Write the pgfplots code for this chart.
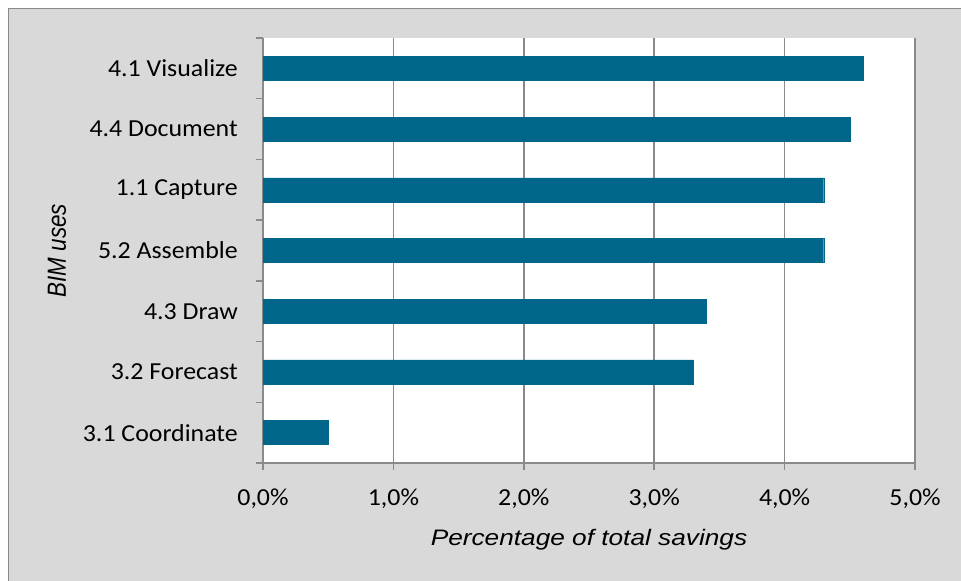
\documentclass[border=0pt]{standalone}
\usepackage{pgfplots}
\pgfplotsset{compat=1.18}
\usepackage{fontspec}
\setmainfont{Carlito}
\newfontfamily\arialfont{Liberation Sans}
\definecolor{barc}{HTML}{00668A}
\definecolor{bgc}{HTML}{D9D9D9}
\definecolor{gridc}{HTML}{8A8A8A}
\begin{document}
\begin{tikzpicture}
\useasboundingbox (0,0) rectangle (961bp,581bp);
\clip (0,0) rectangle (961bp,581bp);
\fill[white] (0,0) rectangle (961bp,581bp);
\fill[bgc] (8.5bp,-10bp) rectangle (975bp,572.5bp);
\draw[gridc, line width=1.5bp] (8.5bp,-10bp) -- (8.5bp,572.5bp) -- (975bp,572.5bp);
\begin{axis}[
  at={(263bp,118bp)}, anchor=south west,
  scale only axis, width=652bp, height=425bp,
  axis background/.style={fill=white},
  xbar, bar width=24bp,
  xmin=0, xmax=5, ymin=-0.5, ymax=6.5,
  axis x line*=bottom, axis y line*=left,
  axis line style={gridc, line width=1.5bp},
  xtick={0,1,2,3,4,5},
  xticklabels={{0,0\%},{1,0\%},{2,0\%},{3,0\%},{4,0\%},{5,0\%}},
  ytick={0,1,2,3,4,5,6},
  yticklabels={3.1 Coordinate,3.2 Forecast,4.3 Draw,5.2 Assemble,1.1 Capture,4.4 Document,4.1 Visualize},
  minor ytick={-0.5,0.5,1.5,2.5,3.5,4.5,5.5,6.5},
  every major y tick/.append style={draw=none},
  tick align=outside, major tick length=7bp, minor tick length=7bp,
  tick style={gridc, line width=1.5bp},
  xmajorgrids, grid style={gridc, line width=1.5bp},
  ticklabel style={font=\fontsize{24.5}{29}\selectfont, xscale=1.06, text=black},
  xticklabel style={anchor=base, yshift=-35bp},
  yticklabel style={anchor=east, inner sep=0pt, xshift=-17bp},
  xlabel={Percentage of total savings},
  ylabel={BIM uses},
  xlabel style={font=\arialfont\itshape\fontsize{22.5}{26}\selectfont, xscale=1.17, anchor=base, at={(axis description cs:0.5,-0.193)}},
  ylabel style={font=\arialfont\itshape\fontsize{22.5}{26}\selectfont, yscale=1.17, anchor=center, at={(axis description cs:-0.316,0.5)}},
]
\addplot[fill=barc, draw=barc] coordinates {(0.5,0) (3.3,1) (3.4,2) (4.3,3) (4.3,4) (4.5,5) (4.6,6)};
\end{axis}
\end{tikzpicture}
\end{document}
